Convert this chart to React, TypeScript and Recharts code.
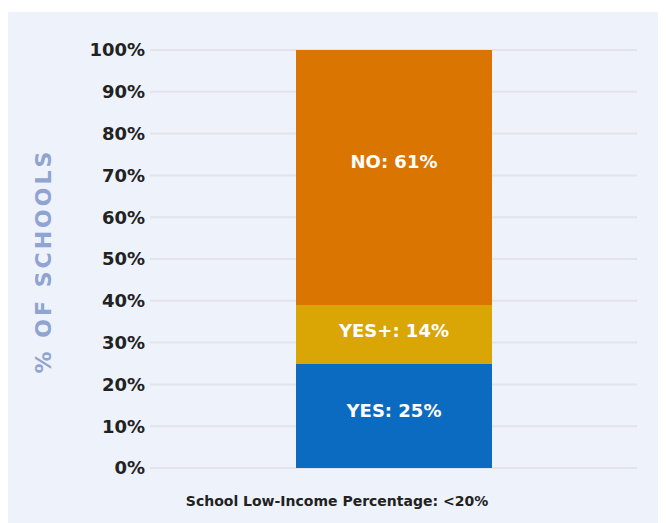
import React from "react";
import { Bar, BarChart, CartesianGrid, LabelList, XAxis, YAxis } from "recharts";

const categories = ["School Low-Income Percentage: <20%"];
const seriesNames = ["YES", "YES+", "NO"];
const yesValues = [25];
const yesPlusValues = [14];
const noValues = [61];
const yTicks = [0, 10, 20, 30, 40, 50, 60, 70, 80, 90, 100];

const FONT = "'DejaVu Sans', sans-serif";

const data = categories.map((name, i) => ({
	name,
	yes: yesValues[i],
	yesPlus: yesPlusValues[i],
	no: noValues[i],
}));

const YLabel = ({ viewBox }: any) => {
	const cx = 36;
	const cy = viewBox.y + viewBox.height / 2 + 2;
	return (
		<text
			x={cx}
			y={cy}
			transform={`rotate(-90 ${cx} ${cy})`}
			textAnchor="middle"
			dominantBaseline="central"
			fill="#8fa4d0"
			fontFamily={FONT}
			fontWeight="bold"
			fontSize={22}
			letterSpacing={3}
		>
			% OF SCHOOLS
		</text>
	);
};

const XLabel = ({ viewBox }: any) => (
	<text
		x={330}
		y={viewBox.y + 38}
		textAnchor="middle"
		fill="#222"
		fontFamily={FONT}
		fontWeight="bold"
		fontSize={14}
	>
		{categories[0]}
	</text>
);

// segment label, shifted a little above the middle like the original
const segLabel = (name: string, dy: number) => (props: any) => {
	const { x, y, width, height, value } = props;
	return (
		<text
			x={x + width / 2}
			y={y + height / 2 + dy}
			textAnchor="middle"
			dominantBaseline="central"
			fill="#ffffff"
			fontFamily={FONT}
			fontWeight="bold"
			fontSize={18}
		>
			{`${name}: ${value}%`}
		</text>
	);
};

export default function App() {
	return (
		<div style={{ margin: "4px 0 0 -1px", width: 659, height: 511, background: "#eef2fa" }}>
			<BarChart
				width={659}
				height={511}
				data={data}
				margin={{ top: 38, right: 29, left: 0, bottom: 15 }}
				barSize={196}
			>
				<CartesianGrid vertical={false} stroke="#e1e4ea" strokeWidth={2} />
				<XAxis
					dataKey="name"
					tick={false}
					axisLine={false}
					tickLine={false}
					height={40}
					label={<XLabel />}
				/>
				<YAxis
					width={143}
					domain={[0, 100]}
					ticks={yTicks}
					interval={0}
					tickFormatter={(v) => `${v}%`}
					axisLine={false}
					tickLine={false}
					tickSize={0}
					tickMargin={5}
					tick={{ fill: "#222", fontFamily: FONT, fontWeight: "bold", fontSize: 18 }}
					label={<YLabel />}
				/>
				<Bar dataKey="yes" stackId="a" fill="#0b6bc0" isAnimationActive={false}>
					<LabelList dataKey="yes" content={segLabel(seriesNames[0], -5)} />
				</Bar>
				<Bar dataKey="yesPlus" stackId="a" fill="#d9a606" isAnimationActive={false}>
					<LabelList dataKey="yesPlus" content={segLabel(seriesNames[1], -4)} />
				</Bar>
				<Bar dataKey="no" stackId="a" fill="#da7502" isAnimationActive={false}>
					<LabelList dataKey="no" content={segLabel(seriesNames[2], -16)} />
				</Bar>
			</BarChart>
		</div>
	);
}
